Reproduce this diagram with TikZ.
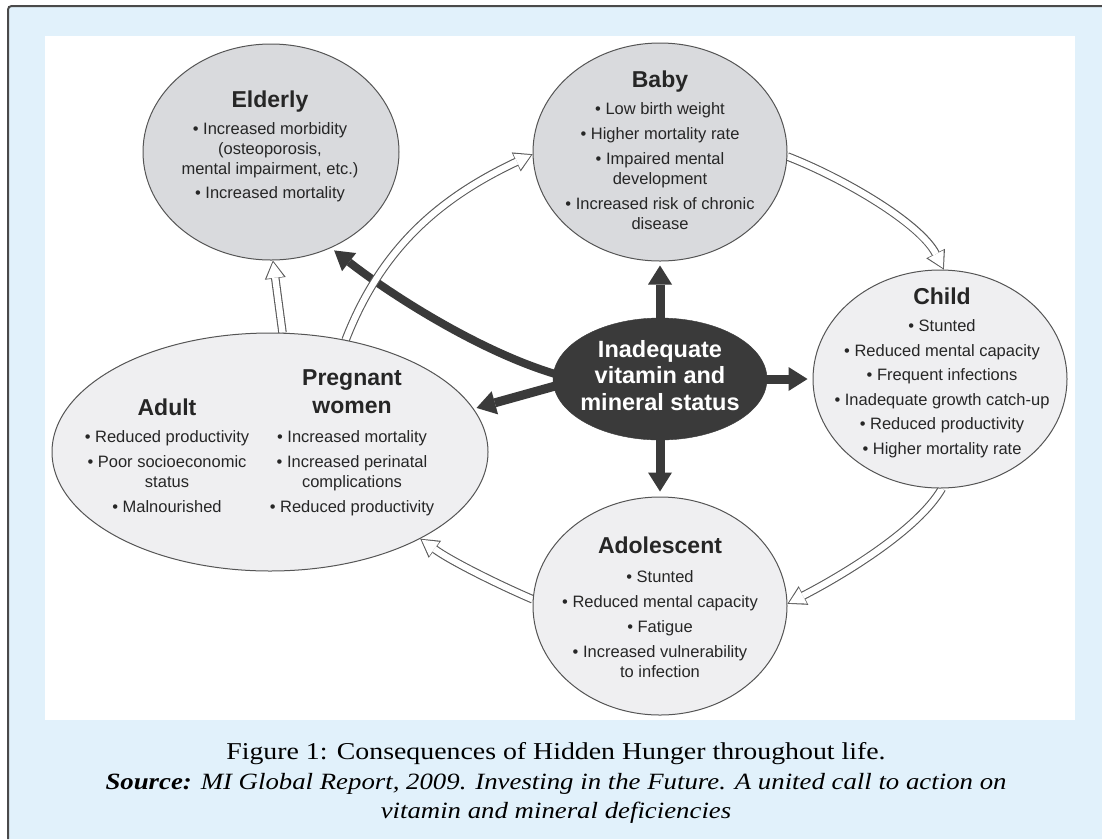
\documentclass[tikz,border=0pt]{standalone}
\usepackage{fontspec}
\setmainfont{Liberation Serif}
\newfontfamily\diafont{Liberation Sans}
\newfontfamily\capfont[FakeStretch=1.15]{Liberation Serif}
\usetikzlibrary{arrows.meta,calc,shapes.geometric}
\pgfdeclarelayer{back}
\pgfdeclarelayer{arrowlayer}
\pgfsetlayers{back,arrowlayer,main}
\definecolor{framebg}{HTML}{E1F1FB}
\definecolor{frameline}{HTML}{4A4A4A}
\definecolor{dkfill}{HTML}{3A3A3A}
\definecolor{ellline}{HTML}{555555}
\definecolor{greyfill}{HTML}{D9DADD}
\definecolor{lightfill}{HTML}{EFEFF1}
\definecolor{txtcol}{HTML}{262626}
\definecolor{arrline}{HTML}{5A5A5A}
\newcommand{\ttl}[1]{{\bfseries\fontsize{23}{23}\selectfont #1}}
\tikzset{
  lifeell/.style={ellipse, draw=ellline, line width=1pt, inner sep=0pt, minimum width=254pt, minimum height=218pt},
  greyell/.style={lifeell, fill=greyfill},
  lightell/.style={lifeell, fill=lightfill},
  bodytext/.style={font=\diafont\fontsize{16.5}{20}\selectfont, text=txtcol, align=center, inner sep=0pt, anchor=base},
  midtext/.style={font=\diafont\bfseries\fontsize{23.5}{26.5}\selectfont, text=white, align=center, inner sep=0pt, anchor=base},
  captext/.style={font=\capfont\fontsize{23.3}{29}\selectfont, text=black, align=center, inner sep=0pt, anchor=base},
  darkarrow/.style={draw=dkfill, line width=9pt, -{Triangle[length=19pt, width=24pt, line width=0pt]}},
  darkcurve/.style={draw=dkfill, line width=8pt, -{Triangle[length=19pt, width=23pt, line width=0pt]}},
  hollowout/.style={draw=arrline, line width=8.5pt, -{Triangle[length=18pt, width=21pt, line width=0pt]}},
  hollowin/.style={draw=white, line width=6.3pt, shorten >=1.8pt, -{Triangle[length=15.5pt, width=17.5pt, line width=0pt]}}
}
\newcommand{\hollowarrow}[1]{\draw[hollowout] #1; \draw[hollowin] #1;}
\begin{document}
\begin{tikzpicture}[x=1pt, y=-1pt]
\useasboundingbox (0,0) rectangle (1102,839);
\begin{pgfonlayer}{back}
  \fill[framebg] (8,839) -- (8,14) .. controls (8,6) .. (16,6) -- (1102,6) -- (1102,839) -- cycle;
  \draw[frameline, line width=2pt] (8,839) -- (8,14) .. controls (8,6) .. (16,6) -- (1102,6);
  \fill[white] (45,36) rectangle (1075,720);
\end{pgfonlayer}

% ellipses
\node[greyell, minimum width=256pt, minimum height=216pt] (elderly) at (271,152) {};
\node[greyell] (baby) at (660,152) {};
\node[lightell] (child) at (940,379) {};
\node[lightell, minimum width=436pt, minimum height=238pt] (adult) at (270,452) {};
\node[lightell] (adolescent) at (660,606) {};
\node[ellipse, fill=dkfill, draw=dkfill, minimum width=214pt, minimum height=122pt, inner sep=0pt] (mid) at (660,379) {};

% texts (anchor base = baseline of the last line)
\node[bodytext] (elderlytxt) at (270,198) {\ttl{Elderly}\\[7pt]• Increased morbidity\\(osteoporosis,\\mental impairment, etc.)\\[4pt]• Increased mortality};
\node[bodytext] (babytxt) at (660,229) {\ttl{Baby}\\[7pt]• Low birth weight\\[5pt]• Higher mortality rate\\[5pt]• Impaired mental\\development\\[5pt]• Increased risk of chronic\\disease};
\node[bodytext] (childtxt) at (942,454) {\ttl{Child}\\[7pt]• Stunted\\[4.5pt]• Reduced mental capacity\\[4.5pt]• Frequent infections\\[4.5pt]• Inadequate growth catch-up\\[4.5pt]• Reduced productivity\\[4.5pt]• Higher mortality rate};
\node[bodytext] (adulttxt) at (167,512) {\ttl{Adult}\\[7pt]• Reduced productivity\\[5pt]• Poor socioeconomic\\status\\[5pt]• Malnourished};
\node[bodytext] (pregtxt) at (352,512) {\ttl{Pregnant}\\[8pt]\ttl{women}\\[9pt]• Increased mortality\\[5pt]• Increased perinatal\\complications\\[5pt]• Reduced productivity};
\node[bodytext] (adoltxt) at (660,677) {\ttl{Adolescent}\\[9pt]• Stunted\\[5pt]• Reduced mental capacity\\[5pt]• Fatigue\\[5pt]• Increased vulnerability\\to infection};
\node[midtext] (midtxt) at (660,410) {Inadequate\\vitamin and\\mineral status};

% caption
\node[captext, font=\capfont\fontsize{24.2}{29}\selectfont] (cap1) at (556,759) {Figure 1: Consequences of Hidden Hunger throughout life.};
\node[captext] (cap2) at (556,818) {\textbf{\textit{Source:}} \textit{MI Global Report, 2009. Investing in the Future. A united call to action on}\\\textit{vitamin and mineral deficiencies}};

% connectors
\begin{pgfonlayer}{arrowlayer}
  \draw[darkarrow, shorten >=4pt] (mid.center) -- (baby.south);
  \draw[darkarrow, shorten >=5pt] (mid.center) -- (adolescent.north);
  \draw[darkarrow, shorten >=5pt] (mid.center) -- (child.west);
  \draw[darkarrow, shorten >=3pt] ($(mid.184)!-14pt!(adult.12)$) -- (adult.12);
  \draw[darkcurve, shorten >=4pt] ($(mid.177)!-14pt!(477,350)$) -- (mid.177) .. controls (477,350) and (390,294) .. (elderly.-58);
  \hollowarrow{(adult.84) -- (elderly.-89)}
  \hollowarrow{(adult.56) .. controls (382,246) and (442,197) .. (baby.181)}
  \hollowarrow{(baby.-2) .. controls (843,178) and (920,223) .. (child.88)}
  \hollowarrow{(child.-89) .. controls (918,530) and (843,575) .. (adolescent.1)}
  \hollowarrow{(adolescent.177) .. controls (497,584) and (451,561) .. (adult.-30)}
\end{pgfonlayer}
\end{tikzpicture}
\end{document}
